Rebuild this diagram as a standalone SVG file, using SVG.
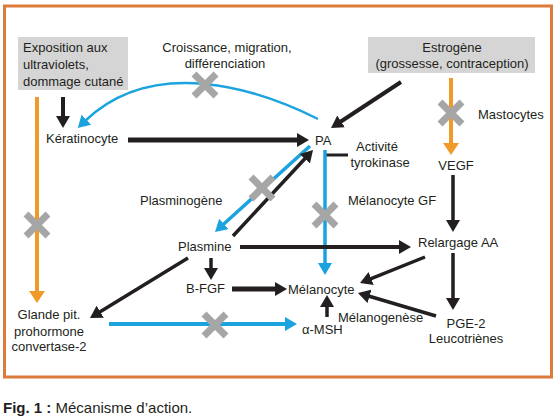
<svg xmlns="http://www.w3.org/2000/svg" width="558" height="417" viewBox="0 0 558 417">
<style>
text{font-family:"Liberation Sans",Arial,sans-serif;font-size:13px;fill:#231f20}
.m{text-anchor:middle}
.k{stroke:#231f20;fill:none}
.b{stroke:#1ba3df;fill:none}
.o{stroke:#f09a2a;fill:none}
.box{fill:#d5d5d5}
</style>
<defs>
<marker id="ak" viewBox="0 0 12 14" markerWidth="12" markerHeight="14" refX="2" refY="7" orient="auto" markerUnits="userSpaceOnUse"><path d="M0,0 L12,7 L0,14 z" fill="#231f20"/></marker>
<marker id="ab" viewBox="0 0 12 14" markerWidth="12" markerHeight="14" refX="2" refY="7" orient="auto" markerUnits="userSpaceOnUse"><path d="M0,0 L12,7 L0,14 z" fill="#1ba3df"/></marker>
<marker id="ao" viewBox="0 0 12 16" markerWidth="12" markerHeight="16" refX="2" refY="8" orient="auto" markerUnits="userSpaceOnUse"><path d="M0,0 L12,8 L0,16 z" fill="#f09a2a"/></marker>
<g id="x"><path d="M-11,-11 L11,11 M-11,11 L11,-11" stroke="#a6a6a6" stroke-width="7" fill="none"/></g>
</defs>
<rect x="4.5" y="6" width="547" height="371" fill="#fff" stroke="#dd7b3a" stroke-width="3"/>

<g id="connectors">
<path class="k" d="M63,97 V118" stroke-width="4" marker-end="url(#ak)"/>
<path class="k" d="M128,140 H299" stroke-width="5" marker-end="url(#ak)"/>
<path class="k" d="M401,82 L339.4,122.5" stroke-width="4" marker-end="url(#ak)"/>
<path class="b" d="M318,119 C258,89 154,55 85,121" stroke-width="2.5" marker-end="url(#ab)"/>
<path class="o" d="M37,97 V293" stroke-width="4" marker-end="url(#ao)"/>
<path class="o" d="M451,78 V145" stroke-width="4" marker-end="url(#ao)"/>
<path class="k" d="M453,175 V222" stroke-width="3.5" marker-end="url(#ak)"/>
<path class="k" d="M326,155 H348" stroke-width="3"/>
<path class="b" d="M325,150 V265" stroke-width="3.5" marker-end="url(#ab)"/>
<path class="b" d="M310,146 L222.4,225.3" stroke-width="3.5" marker-end="url(#ab)"/>
<path class="k" d="M233,236 L306.2,157.3" stroke-width="3.5" marker-end="url(#ak)"/>
<path class="k" d="M240,247 H401" stroke-width="4" marker-end="url(#ak)"/>
<path class="k" d="M211,258 V270" stroke-width="3.5" marker-end="url(#ak)"/>
<path class="k" d="M232,289 H277" stroke-width="5" marker-end="url(#ak)"/>
<path class="k" d="M188,258 L98.5,312.8" stroke-width="3.5" marker-end="url(#ak)"/>
<path class="b" d="M109,324 H287" stroke-width="4" marker-end="url(#ab)"/>
<path class="k" d="M327,317 V305" stroke-width="3.5" marker-end="url(#ak)"/>
<path class="k" d="M425,257 L369.3,279.3" stroke-width="3.5" marker-end="url(#ak)"/>
<path class="k" d="M436,316 L367.6,295.8" stroke-width="3.5" marker-end="url(#ak)"/>
<path class="k" d="M453,253 V300" stroke-width="3.5" marker-end="url(#ak)"/>
<use href="#x" x="205" y="85"/>
<use href="#x" x="37" y="225"/>
<use href="#x" x="451" y="113"/>
<use href="#x" x="325" y="215"/>
<use href="#x" x="262" y="188"/>
<use href="#x" x="215" y="325"/>
</g>

<g id="exposition"><rect class="box" x="18" y="37" width="110" height="53"/>
<text x="23" y="52">Exposition aux</text><text x="23" y="69">ultraviolets,</text><text x="23" y="86">dommage cutané</text></g>
<g id="croissance"><text class="m" x="227" y="52">Croissance, migration,</text><text class="m" x="225" y="68">différenciation</text></g>
<g id="estrogene"><rect class="box" x="368" y="37" width="167" height="36"/>
<text class="m" x="452" y="52">Estrogène</text><text class="m" x="452" y="68">(grossesse, contraception)</text></g>
<g id="keratinocyte"><text x="46" y="143">Kératinocyte</text></g>
<g id="pa"><text x="315" y="145">PA</text></g>
<g id="activite"><text class="m" x="377" y="151">Activité</text><text class="m" x="380" y="167">tyrokinase</text></g>
<g id="mastocytes"><text x="478" y="119">Mastocytes</text></g>
<g id="vegf"><text class="m" x="456" y="170">VEGF</text></g>
<g id="plasminogene"><text x="140" y="205">Plasminogène</text></g>
<g id="melanocytegf"><text x="348" y="205">Mélanocyte GF</text></g>
<g id="plasmine"><text x="178" y="251">Plasmine</text></g>
<g id="relargage"><text x="418" y="247">Relargage AA</text></g>
<g id="bfgf"><text x="186" y="293">B-FGF</text></g>
<g id="melanocyte"><text x="288" y="294">Mélanocyte</text></g>
<g id="glande"><text class="m" x="49" y="319">Glande pit.</text><text class="m" x="49" y="336">prohormone</text><text class="m" x="49" y="351">convertase-2</text></g>
<g id="melanogenese"><text x="338" y="322">Mélanogenèse</text></g>
<g id="amsh"><text x="302" y="334">α-MSH</text></g>
<g id="pge2"><text class="m" x="466" y="328">PGE-2</text><text class="m" x="466" y="343">Leucotriènes</text></g>
<g id="caption"><text x="3" y="413" style="font-size:15px"><tspan font-weight="bold">Fig. 1 :</tspan> Mécanisme d’action.</text></g>
</svg>
